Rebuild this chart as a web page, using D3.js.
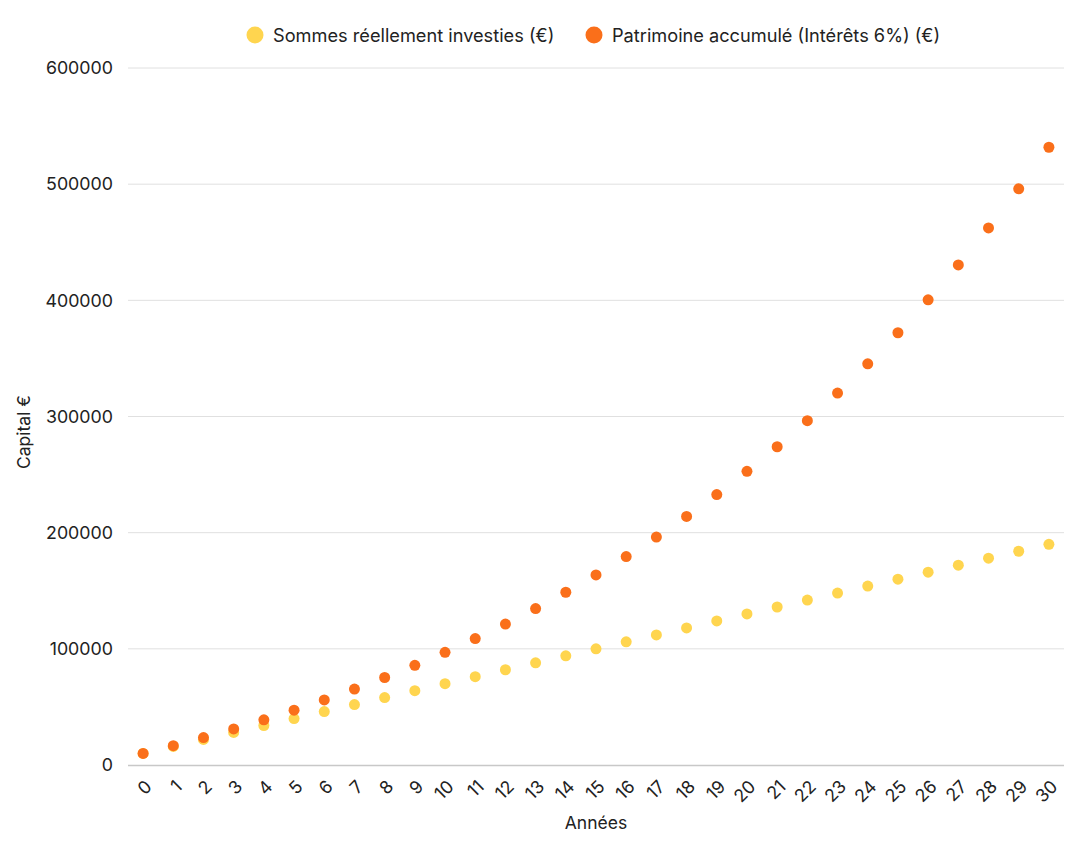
<!DOCTYPE html>
<html><head><meta charset="utf-8">
<script src="https://cdn.jsdelivr.net/npm/d3@7"></script>
<style>
body{margin:0;background:#fff;font-family:Inter,"Noto Sans",sans-serif;}
</style></head>
<body><svg id="c" width="1081" height="845"></svg>
<script>
const years = d3.range(0,31).map(String);
const invested = [10000,16000,22000,28000,34000,40000,46000,52000,58000,64000,70000,76000,82000,88000,94000,100000,106000,112000,118000,124000,130000,136000,142000,148000,154000,160000,166000,172000,178000,184000,190000];
const accumulated = [10000,16600,23596,31012,38872,47205,56037,65399,75323,85843,96993,108813,121342,134622,148699,163622,179439,196205,213977,232816,252785,273952,296389,320173,345382,372106,400432,430458,462286,496023,531784];
const yTicks = [0,100000,200000,300000,400000,500000,600000];
const seriesNames = ["Sommes réellement investies (€)","Patrimoine accumulé (Intérêts 6%) (€)"];
const colors = ["#FFD54F","#FA6F1A"];

const svg = d3.select("#c");
const m = {l:128, r:1064, t:68, b:765};
const x = d3.scaleBand().domain(years).range([m.l,m.r]);
const y = d3.scaleLinear().domain([0,600000]).range([m.b,m.t]);

// grid
svg.append("g").selectAll("line").data(yTicks.filter(d=>d>0)).join("line")
  .attr("x1",m.l).attr("x2",m.r).attr("y1",d=>y(d)).attr("y2",d=>y(d))
  .attr("stroke","#e0e0e0").attr("stroke-width",1);

// y axis labels
svg.append("g").selectAll("text").data(yTicks).join("text")
  .attr("x",113).attr("y",d=>y(d)).attr("dy","0.35em").attr("text-anchor","end")
  .attr("font-size",17.8).attr("fill","#222").text(d=>d);

// x axis line
svg.append("line").attr("x1",m.l).attr("x2",m.r).attr("y1",m.b+0.5).attr("y2",m.b+0.5)
  .attr("stroke","#c8c8c8").attr("stroke-width",1.5);

// x tick labels
svg.append("g").selectAll("text").data(years).join("text")
  .attr("transform",d=>`translate(${x(d)+x.bandwidth()/2+1},${m.b+14}) rotate(-45)`)
  .attr("text-anchor","end").attr("dy","0.7em")
  .attr("font-size",17.8).attr("fill","#222").text(d=>d);

// axis titles
svg.append("text").attr("x",596).attr("y",829).attr("text-anchor","middle")
  .attr("font-size",17.5).attr("fill","#222").text("Années");
svg.append("text").attr("transform","translate(30,432) rotate(-90)").attr("text-anchor","middle")
  .attr("font-size",17.5).attr("fill","#222").text("Capital €");

// points
const series = [invested, accumulated];
series.forEach((s,i)=>{
  svg.append("g").selectAll("circle").data(s).join("circle")
    .attr("cx",(d,j)=>x(years[j])+x.bandwidth()/2).attr("cy",d=>y(d))
    .attr("r",5.5).attr("fill",colors[i]);
});

// legend
const lg = [{x:255,name:seriesNames[0],c:colors[0]},{x:594,name:seriesNames[1],c:colors[1]}];
lg.forEach(l=>{
  svg.append("circle").attr("cx",l.x).attr("cy",35).attr("r",8.5).attr("fill",l.c);
  svg.append("text").attr("x",l.x+18).attr("y",36).attr("dy","0.35em")
    .attr("font-size",18.2).attr("fill","#222").text(l.name);
});
</script></body></html>
